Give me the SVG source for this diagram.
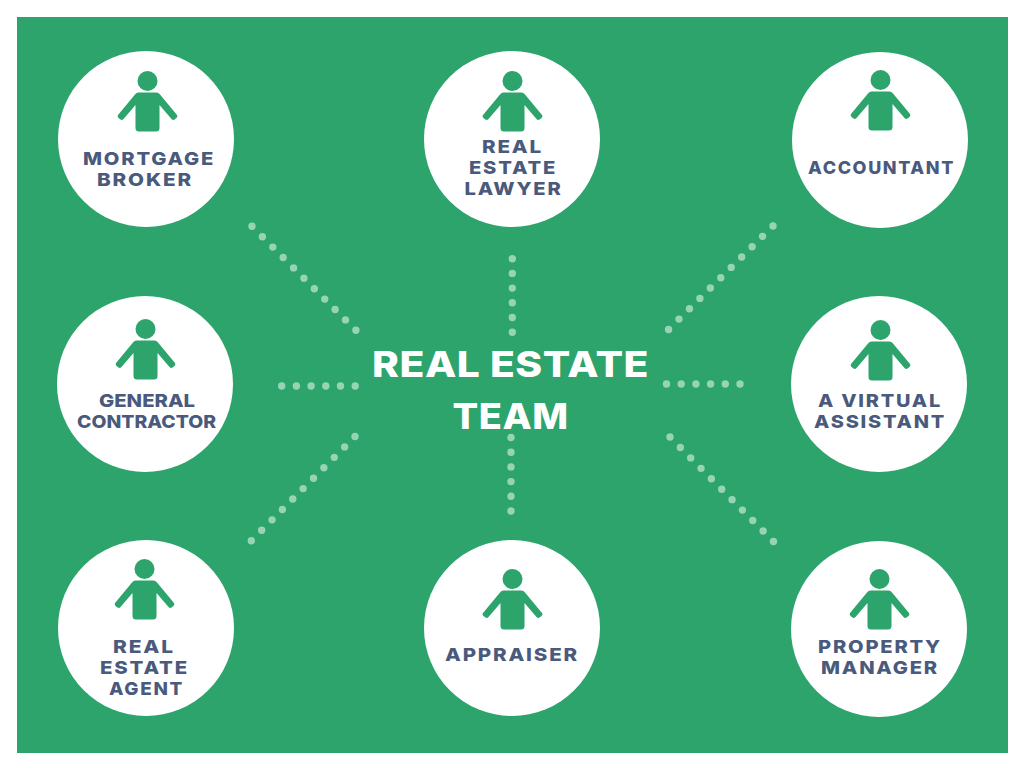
<svg xmlns="http://www.w3.org/2000/svg" xmlns:xlink="http://www.w3.org/1999/xlink" width="1024" height="768" viewBox="0 0 1024 768">
<style>
.bg{fill:#2ca46c}
.c{fill:#fff}
.l{font-family:Inter,"Liberation Sans",sans-serif;font-weight:800;font-size:18px;fill:#4a5a7d;letter-spacing:1.6px}
.n{letter-spacing:0}
.t{font-family:Inter,"Liberation Sans",sans-serif;font-weight:800;font-size:36px;fill:#fff;letter-spacing:.5px}
.d{fill:none;stroke:#96d4b5;stroke-width:7.400;stroke-linecap:round;stroke-dasharray:0 14.7}
</style>
<defs>
<g id="person">
<circle cx="0" cy="0" r="10" fill="#2ca46c"/>
<path d="M-9,11.5H9Q11,11.5 12.5,13.5L29.5,34Q30.5,35.500 29,37L27,38.500Q25.500,39.500 24,38L12,24V47Q12,50.500 8.500,50.500H-8.500Q-12,50.500 -12,47V24L-24,38Q-25.500,39.500 -27,38.500L-29,37Q-30.500,35.500 -29.500,34L-12.500,13.500Q-11,11.500 -9,11.500Z" fill="#2ca46c"/>
</g>
</defs>
<rect class="bg" x="17" y="17" width="991" height="736"/>
<g id="connectors">
<path class="d" d="M252,226.300L356.300,330.700"/>
<path class="d" d="M512.300,258.700V332.300"/>
<path class="d" d="M773,226L667,331"/>
<path class="d" d="M281.700,386H355.300"/>
<path class="d" d="M666.500,384H741"/>
<path class="d" d="M355,436.500L250,542"/>
<path class="d" d="M511,437.500V511.200"/>
<path class="d" d="M670,437L775,543"/>
</g>
<g id="center"><text class="t" x="372" y="377" textLength="277" lengthAdjust="spacingAndGlyphs">REAL ESTATE</text><text class="t" x="452.500" y="429" textLength="116" lengthAdjust="spacingAndGlyphs">TEAM</text></g>
<g id="mortgage-broker"><circle class="c" cx="146" cy="139" r="88"/><use xlink:href="#person" href="#person" x="147.500" y="81"/><text class="l" x="83" y="165" textLength="132" lengthAdjust="spacingAndGlyphs">MORTGAGE</text><text class="l" x="97" y="186" textLength="96" lengthAdjust="spacingAndGlyphs">BROKER</text></g>
<g id="real-estate-lawyer"><circle class="c" cx="512" cy="139" r="88"/><use href="#person" x="512.500" y="81"/><text class="l" x="482" y="153" textLength="61" lengthAdjust="spacingAndGlyphs">REAL</text><text class="l" x="469" y="174" textLength="88" lengthAdjust="spacingAndGlyphs">ESTATE</text><text class="l" x="464.500" y="195" textLength="98" lengthAdjust="spacingAndGlyphs">LAWYER</text></g>
<g id="accountant"><circle class="c" cx="880" cy="140" r="88"/><use href="#person" x="880.500" y="80"/><text class="l" x="808" y="174" textLength="147" lengthAdjust="spacingAndGlyphs">ACCOUNTANT</text></g>
<g id="general-contractor"><circle class="c" cx="145" cy="384" r="88"/><use href="#person" x="145.500" y="329"/><text class="l n" x="99" y="407" textLength="96" lengthAdjust="spacingAndGlyphs">GENERAL</text><text class="l n" x="77" y="428" textLength="139" lengthAdjust="spacingAndGlyphs">CONTRACTOR</text></g>
<g id="virtual-assistant"><circle class="c" cx="879" cy="384" r="88"/><use href="#person" x="880.500" y="330"/><text class="l" x="818" y="407" textLength="124" lengthAdjust="spacingAndGlyphs">A VIRTUAL</text><text class="l" x="814" y="428" textLength="132" lengthAdjust="spacingAndGlyphs">ASSISTANT</text></g>
<g id="real-estate-agent"><circle class="c" cx="146" cy="628" r="88"/><use href="#person" x="144.500" y="569"/><text class="l" x="113" y="653" textLength="62" lengthAdjust="spacingAndGlyphs">REAL</text><text class="l" x="100" y="674" textLength="89" lengthAdjust="spacingAndGlyphs">ESTATE</text><text class="l" x="109" y="695" textLength="75" lengthAdjust="spacingAndGlyphs">AGENT</text></g>
<g id="appraiser"><circle class="c" cx="512" cy="628" r="88"/><use href="#person" x="512.500" y="579"/><text class="l" x="445" y="661" textLength="134" lengthAdjust="spacingAndGlyphs">APPRAISER</text></g>
<g id="property-manager"><circle class="c" cx="879" cy="629" r="88"/><use href="#person" x="879.500" y="579"/><text class="l" x="818" y="653" textLength="124" lengthAdjust="spacingAndGlyphs">PROPERTY</text><text class="l" x="821" y="674" textLength="118" lengthAdjust="spacingAndGlyphs">MANAGER</text></g>
</svg>
